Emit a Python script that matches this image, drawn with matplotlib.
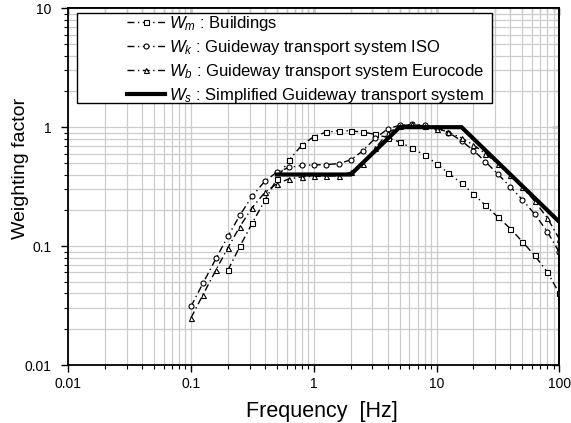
import matplotlib
matplotlib.use("Agg")
import matplotlib.pyplot as plt
from matplotlib.patches import Rectangle
from matplotlib.ticker import LogLocator, FuncFormatter, NullFormatter

plt.rcParams['font.family'] = ['Liberation Sans', 'DejaVu Sans']
plt.rcParams['mathtext.fontset'] = 'custom'
plt.rcParams['mathtext.rm'] = 'Liberation Sans'
plt.rcParams['mathtext.it'] = 'Liberation Sans:italic'

# One-third octave band centre frequencies [Hz]
freq = [0.1, 0.125, 0.16, 0.2, 0.25, 0.315, 0.4, 0.5, 0.63, 0.8, 1, 1.25, 1.6,
        2, 2.5, 3.15, 4, 5, 6.3, 8, 10, 12.5, 16, 20, 25, 31.5, 40, 50, 63,
        80, 100]

# Wm (buildings) is tabulated from 0.2 Hz upward
wm_freq = freq[3:]
wm = [0.0629, 0.0994, 0.156, 0.243, 0.367, 0.530, 0.707, 0.833, 0.907, 0.934,
      0.932, 0.910, 0.872, 0.818, 0.750, 0.669, 0.582, 0.494, 0.411, 0.337,
      0.274, 0.220, 0.176, 0.140, 0.109, 0.0834, 0.0604, 0.0401]

wk = [0.0312, 0.0486, 0.0790, 0.121, 0.182, 0.263, 0.352, 0.418, 0.459, 0.477,
      0.482, 0.484, 0.494, 0.531, 0.631, 0.804, 0.967, 1.039, 1.054, 1.036,
      0.988, 0.902, 0.768, 0.636, 0.513, 0.405, 0.314, 0.246, 0.186, 0.132,
      0.0887]

wb = [0.0250, 0.0389, 0.0633, 0.0972, 0.146, 0.211, 0.283, 0.335, 0.368, 0.382,
      0.386, 0.387, 0.392, 0.417, 0.494, 0.662, 0.889, 1.025, 1.055, 1.025,
      0.975, 0.907, 0.811, 0.708, 0.600, 0.492, 0.393, 0.313, 0.239, 0.172,
      0.115]

# Simplified weighting: corner points
ws_freq = [0.5, 2, 5, 16, 100]
ws = [0.4, 0.4, 1.0, 1.0, 0.16]

labels = [r"$W_m$ : Buildings",
          r"$W_k$ : Guideway transport system ISO",
          r"$W_b$ : Guideway transport system Eurocode",
          r"$W_s$ : Simplified Guideway transport system"]

fig = plt.figure(figsize=(5.71, 4.23), dpi=100)
ax = fig.add_axes([0.1196, 0.1371, 0.8599, 0.8433])
ax.set_xscale('log')
ax.set_yscale('log')
ax.set_xlim(0.01, 100)
ax.set_ylim(0.01, 10)

dash = (0, (5, 2.5, 1, 2.5))
mk = dict(markersize=3.6, markerfacecolor='white', markeredgecolor='black',
          markeredgewidth=0.8)
l1, = ax.plot(wm_freq, wm, color='black', lw=1.0, linestyle=dash, marker='s', **mk)
l2, = ax.plot(freq, wk, color='black', lw=1.0, linestyle=dash, marker='o', **mk)
l3, = ax.plot(freq, wb, color='black', lw=1.0, linestyle=dash, marker='^', **mk)
l4, = ax.plot(ws_freq, ws, color='black', lw=3.0, solid_joinstyle='miter', zorder=5)

ax.grid(True, which='both', color='#cccccc', lw=0.9)
ax.set_axisbelow(True)

fmt = FuncFormatter(lambda v, p: f"{v:g}")
for axis in (ax.xaxis, ax.yaxis):
    axis.set_major_locator(LogLocator(base=10, numticks=10))
    axis.set_minor_locator(LogLocator(base=10, subs=range(2, 10), numticks=10))
    axis.set_major_formatter(fmt)
    axis.set_minor_formatter(NullFormatter())

ax.tick_params(which='major', direction='out', length=5, width=1.0, labelsize=10)
ax.tick_params(which='minor', direction='out', length=3, width=0.8)
ax.tick_params(axis='y', which='major', pad=7)

# mirrored ticks pointing inward on the top and right frame
for side in ('top', 'right'):
    if side == 'top':
        sec = ax.secondary_xaxis('top')
        sub = sec.xaxis
    else:
        sec = ax.secondary_yaxis('right')
        sub = sec.yaxis
    sub.set_major_locator(LogLocator(base=10, numticks=10))
    sub.set_minor_locator(LogLocator(base=10, subs=range(2, 10), numticks=10))
    sub.set_major_formatter(NullFormatter())
    sub.set_minor_formatter(NullFormatter())
    sec.tick_params(which='major', direction='in', length=5, width=1.0)
    sec.tick_params(which='minor', direction='in', length=3, width=0.8)
    for s in sec.spines.values():
        s.set_linewidth(1.3)

for s in ax.spines.values():
    s.set_linewidth(1.3)

ax.set_xlabel("Frequency  [Hz]", fontsize=15.5)
ax.set_ylabel("Weighting factor", fontsize=14)
ax.xaxis.set_label_coords(0.517, -0.100)
ax.yaxis.set_label_coords(-0.081, 0.55)

leg = ax.legend([l1, l2, l3, l4], labels, loc='upper left',
                bbox_to_anchor=(0.1196, 0.984), borderaxespad=0,
                fontsize=12, frameon=False, handlelength=2.3,
                handletextpad=0.2, labelspacing=0.3, borderpad=0)
leg.set_zorder(10)

# legend box, sized to the legend contents
fig.canvas.draw()
bb = leg.get_window_extent().transformed(ax.transAxes.inverted())
x0, y0, y1 = 0.0183, 0.7345, 0.9877
x1 = bb.x1 + 8 / 491
box = Rectangle((x0, y0), x1 - x0, y1 - y0, transform=ax.transAxes,
                facecolor='white', edgecolor='black', lw=1.0, zorder=9,
                clip_on=False)
ax.add_patch(box)

fig.savefig("out.png", dpi=100)
